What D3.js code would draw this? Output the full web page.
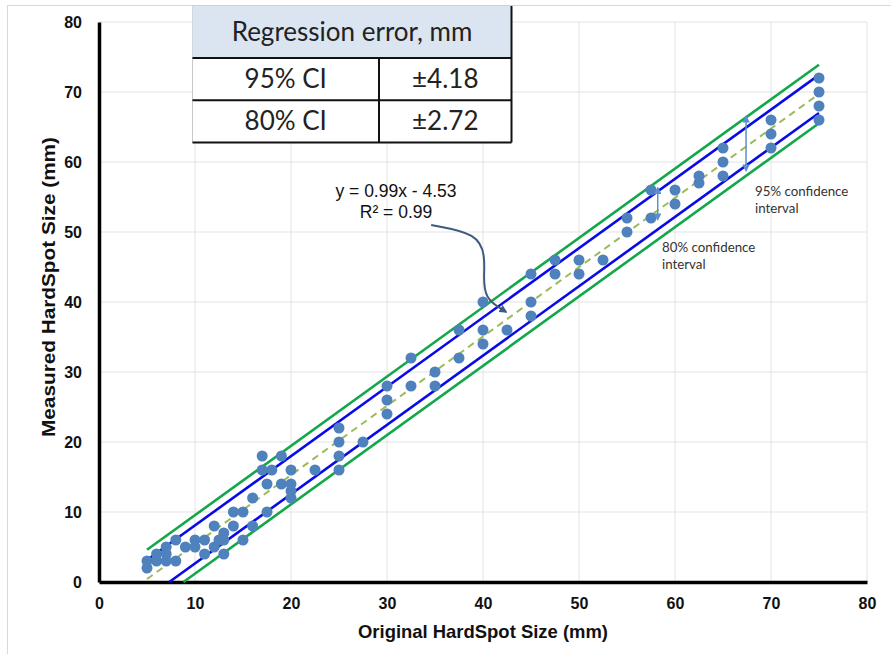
<!DOCTYPE html>
<html><head><meta charset="utf-8">
<script src="https://cdn.jsdelivr.net/npm/d3@7"></script>
<style>
html,body{margin:0;padding:0;background:#fff;}
svg{display:block;}
</style></head>
<body><svg id="chart" width="891" height="654"></svg>
<script>
// ---- data ----
const originalSize = [5,5,6,6,7,7,7,8,8,9,10,10,11,11,12,12,12.5,13,13,13,14,14,15,15,16,16,17,17,17.5,17.5,18,19,19,20,20,20,20,22.5,25,25,25,25,27.5,30,30,30,32.5,32.5,35,35,37.5,37.5,40,40,40,42.5,45,45,45,47.5,47.5,50,50,52.5,55,55,57.5,57.5,60,60,62.5,62.5,65,65,65,70,70,70,75,75,75,75];
const measuredSize = [2,3,3,4,3,4,5,3,6,5,5,6,4,6,5,8,6,4,6,7,8,10,6,10,8,12,16,18,10,14,16,14,18,12,13,14,16,16,16,18,20,22,20,24,26,28,28,32,28,30,32,36,34,36,40,36,38,40,44,44,46,44,46,46,50,52,52,56,54,56,57,58,58,60,62,62,64,66,66,68,70,72];
const slope = 0.99, intercept = -4.53;
const ci95 = 4.18, ci80 = 2.72;
const fitRange = [5, 75];
const xTicks = [0,10,20,30,40,50,60,70,80];
const yTicks = [0,10,20,30,40,50,60,70,80];
const tableHeader = "Regression error, mm";
const tableRows = [["95% CI","±4.18"],["80% CI","±2.72"]];
const eqLines = ["y = 0.99x - 4.53","R² = 0.99"];
const ci95Label = ["95% confidence","interval"];
const ci80Label = ["80% confidence","interval"];
// annotation anchors in data units
const ci80Arrow = {x:58.2, y1:56.3, y2:51.8};
const ci95Arrow = {x:67.4, y1:66.5, y2:58.8};
const eqArrow = [[34.6,51.0],[39.5,49.8],[40.2,46.5],[40.1,44.0],[40.1,40.5],[42.4,38.6]];

// ---- layout ----
const svg = d3.select("#chart");
const x = d3.scaleLinear().domain([0,80]).range([99,867]);
const y = d3.scaleLinear().domain([0,80]).range([582,22]);

// outer frame
svg.append("rect").attr("x",7.5).attr("y",5.5).attr("width",900).attr("height",700)
  .attr("fill","none").attr("stroke","#d9d9d9").attr("stroke-width",1);

// gridlines
svg.append("g").selectAll("line").data(xTicks.filter(d=>d>0)).join("line")
  .attr("x1",d=>x(d)).attr("x2",d=>x(d)).attr("y1",y(0)).attr("y2",y(80))
  .attr("stroke","#e3e3e3").attr("stroke-width",1);
svg.append("g").selectAll("line").data(yTicks.filter(d=>d>0)).join("line")
  .attr("y1",d=>y(d)).attr("y2",d=>y(d)).attr("x1",x(0)).attr("x2",x(80))
  .attr("stroke","#e3e3e3").attr("stroke-width",1);

// axes
const xAxis = d3.axisBottom(x).tickValues(xTicks).tickSize(0).tickPadding(16);
const yAxis = d3.axisLeft(y).tickValues(yTicks).tickSize(0).tickPadding(17);
const gx = svg.append("g").attr("transform",`translate(0,${y(0)})`).call(xAxis);
const gy = svg.append("g").attr("transform",`translate(${x(0)},0)`).call(yAxis);
[gx,gy].forEach(g=>{
  g.select(".domain").attr("stroke","#000").attr("stroke-width",3.5);
  g.selectAll("text").attr("font-family","'Liberation Sans', Arial, sans-serif")
   .attr("font-size",16).attr("font-weight","bold").attr("fill","#111");
});

// fit lines
function seg(off){
  let x0 = fitRange[0];
  const yAt = v => slope*v + intercept + off;
  if (yAt(x0) < 0) x0 = -(intercept+off)/slope;
  return [[x0,yAt(x0)],[fitRange[1],yAt(fitRange[1])]];
}
const lineGen = d3.line().x(d=>x(d[0])).y(d=>y(d[1]));
const fits = [
  {off:+ci95,c:"#12a84a",w:2.6,dash:null},
  {off:-ci95,c:"#12a84a",w:2.6,dash:null},
  {off:+ci80,c:"#0a0ae6",w:2.6,dash:null},
  {off:-ci80,c:"#0a0ae6",w:2.6,dash:null},
  {off:0,c:"#9bbb59",w:2,dash:"7,5"}
];
svg.append("g").selectAll("path").data(fits).join("path")
  .attr("d",d=>lineGen(seg(d.off))).attr("fill","none")
  .attr("stroke",d=>d.c).attr("stroke-width",d=>d.w)
  .attr("stroke-dasharray",d=>d.dash);

// points
svg.append("g").selectAll("circle").data(originalSize.map((v,i)=>[v,measuredSize[i]])).join("circle")
  .attr("cx",d=>x(d[0])).attr("cy",d=>y(d[1])).attr("r",5.5)
  .attr("fill","#4f81bd");

// arrow markers
const defs = svg.append("defs");
defs.append("marker").attr("id","ah").attr("viewBox","0 0 10 10").attr("refX",8).attr("refY",5)
  .attr("markerWidth",5).attr("markerHeight",5).attr("orient","auto-start-reverse")
  .append("path").attr("d","M0,0 L10,5 L0,10 z").attr("fill","#5b8fcf");
defs.append("marker").attr("id","ah2").attr("viewBox","0 0 10 10").attr("refX",8).attr("refY",5)
  .attr("markerWidth",4).attr("markerHeight",4).attr("orient","auto")
  .append("path").attr("d","M0,0 L10,5 L0,10 z").attr("fill","#3e5a80");

[ci80Arrow, ci95Arrow].forEach(a=>{
  svg.append("line").attr("x1",x(a.x)).attr("x2",x(a.x)).attr("y1",y(a.y1)).attr("y2",y(a.y2))
    .attr("stroke","#5b8fcf").attr("stroke-width",1.5)
    .attr("marker-start","url(#ah)").attr("marker-end","url(#ah)");
});

// equation arrow
svg.append("path").attr("d", d3.line().x(d=>x(d[0])).y(d=>y(d[1])).curve(d3.curveBasis)(eqArrow))
  .attr("fill","none").attr("stroke","#3e5a80").attr("stroke-width",2)
  .attr("marker-end","url(#ah2)");

// equation text
svg.append("g").selectAll("text").data(eqLines).join("text")
  .attr("x",396).attr("y",(d,i)=>197+i*21).attr("text-anchor","middle")
  .attr("font-family","'Liberation Sans', Arial, sans-serif").attr("font-size",17.5).attr("fill","#111")
  .text(d=>d);

// CI labels
function ciLabel(lines, lx, ly){
  svg.append("g").selectAll("text").data(lines).join("text")
    .attr("x",lx).attr("y",(d,i)=>ly+i*16.5)
    .attr("font-family","Lato, 'Open Sans', sans-serif").attr("font-size",13.3).attr("fill","#333")
    .text(d=>d);
}
ciLabel(ci95Label, 755, 196);
ciLabel(ci80Label, 662, 252);

// table
const T = {x:192.5, y:6, w:319, hH:52, rH:42.2, col:379};
const tg = svg.append("g");
tg.append("rect").attr("x",T.x).attr("y",T.y).attr("width",T.w).attr("height",T.hH+2*T.rH).attr("fill","#fff")
  .attr("stroke","#c8c8c8").attr("stroke-width",1);
tg.append("rect").attr("x",T.x).attr("y",T.y).attr("width",T.w).attr("height",T.hH).attr("fill","#dbe5f1");
const hy = T.y+T.hH;
[hy, hy+T.rH, hy+2*T.rH].forEach(yy=>{
  tg.append("line").attr("x1",T.x).attr("x2",T.x+T.w).attr("y1",yy).attr("y2",yy).attr("stroke","#111").attr("stroke-width",2);
});
tg.append("line").attr("x1",T.col).attr("x2",T.col).attr("y1",hy).attr("y2",hy+2*T.rH).attr("stroke","#111").attr("stroke-width",2);
tg.append("line").attr("x1",T.x+T.w).attr("x2",T.x+T.w).attr("y1",T.y).attr("y2",hy+2*T.rH).attr("stroke","#111").attr("stroke-width",2);
const tf = "Lato, 'Open Sans', sans-serif";
tg.append("text").attr("x",T.x+T.w/2).attr("y",T.y+T.hH/2+9).attr("text-anchor","middle")
  .attr("font-family",tf).attr("font-size",26).attr("fill","#222").text(tableHeader);
tableRows.forEach((r,i)=>{
  const cy = hy + T.rH*i + T.rH/2 + 9;
  tg.append("text").attr("x",(T.x+T.col)/2).attr("y",cy).attr("text-anchor","middle")
    .attr("font-family",tf).attr("font-size",26).attr("fill","#222").text(r[0]);
  tg.append("text").attr("x",(T.col+T.x+T.w)/2).attr("y",cy).attr("text-anchor","middle")
    .attr("font-family",tf).attr("font-size",26).attr("fill","#222").text(r[1]);
});

// axis titles
svg.append("text").attr("x",483).attr("y",638).attr("text-anchor","middle")
  .attr("font-family","'Liberation Sans', Arial, sans-serif").attr("font-size",18.5).attr("font-weight","bold")
  .attr("textLength",250).attr("lengthAdjust","spacingAndGlyphs")
  .attr("fill","#111").text("Original HardSpot Size (mm)");
svg.append("text").attr("transform","translate(55,287) rotate(-90)").attr("text-anchor","middle")
  .attr("font-family","'Liberation Sans', Arial, sans-serif").attr("font-size",18.5).attr("font-weight","bold")
  .attr("textLength",300).attr("lengthAdjust","spacingAndGlyphs")
  .attr("fill","#111").text("Measured HardSpot Size (mm)");
</script></body></html>
